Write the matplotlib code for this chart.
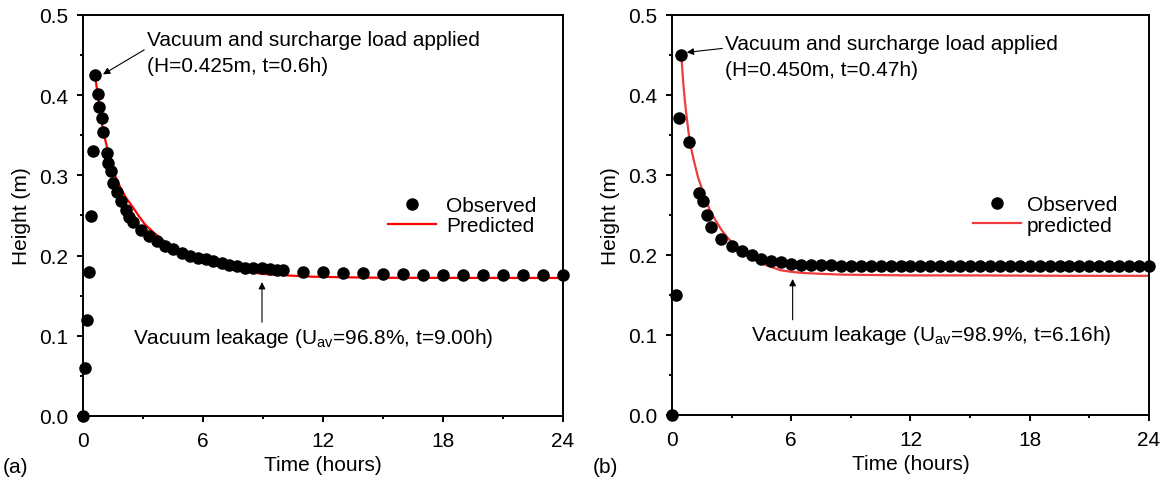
import matplotlib
matplotlib.use("Agg")
import matplotlib.pyplot as plt
from matplotlib.ticker import MultipleLocator

plt.rcParams['font.family'] = ['Liberation Sans', 'DejaVu Sans']
plt.rcParams['mathtext.fontset'] = 'custom'
plt.rcParams['mathtext.rm'] = 'Liberation Sans'
plt.rcParams['mathtext.it'] = 'Liberation Sans:italic'

# ---- panel (a) ----
t_obs_a = [0, 0.1, 0.2, 0.3, 0.4, 0.5, 0.6, 0.73, 0.8, 0.93, 1.02, 1.18, 1.27, 1.4,
           1.52, 1.68, 1.9, 2.15, 2.32, 2.52, 2.9, 3.3, 3.7, 4.1, 4.5, 4.93, 5.35,
           5.77, 6.15, 6.52, 6.93, 7.32, 7.72, 8.1, 8.5, 8.93, 9.33, 9.68, 10.0,
           11, 12, 13, 14, 15, 16, 17, 18, 19, 20, 21, 22, 23, 24]
h_obs_a = [0, 0.06, 0.12, 0.18, 0.25, 0.33, 0.425, 0.402, 0.385, 0.371, 0.354, 0.328,
           0.316, 0.305, 0.291, 0.279, 0.268, 0.257, 0.248, 0.242, 0.232, 0.224,
           0.218, 0.212, 0.208, 0.203, 0.200, 0.197, 0.196, 0.193, 0.191, 0.188,
           0.187, 0.185, 0.185, 0.184, 0.183, 0.182, 0.182,
           0.180, 0.179, 0.178, 0.178, 0.177, 0.177, 0.176, 0.176, 0.176, 0.176,
           0.176, 0.176, 0.176, 0.176]
t_pred_a = [0.6, 0.7, 0.835, 1.0, 1.25, 1.5, 1.75, 1.95, 2.165, 2.5, 2.8, 3.085, 3.5,
            4.085, 4.5, 5.085, 5.75, 6.5, 7.35, 8.2, 9.0, 10.0, 11.5, 13.0, 14.85,
            18.0, 24.0]
h_pred_a = [0.425, 0.407, 0.383, 0.356, 0.330, 0.306, 0.291, 0.281, 0.2716, 0.260,
            0.249, 0.2393, 0.2295, 0.2176, 0.2105, 0.203, 0.1955, 0.189, 0.1833, 0.18,
            0.1771, 0.1755, 0.1737, 0.173, 0.1724, 0.1722, 0.1721]

# ---- panel (b) ----
t_obs_b = [0, 0.2, 0.37, 0.47, 0.85, 1.35, 1.55, 1.75, 1.95, 2.45,
           3.0, 3.5, 4.0, 4.5, 5.0, 5.5, 6.0, 6.5, 7.0, 7.5, 8.0, 8.5, 9.0, 9.5,
           10.0, 10.5, 11.0, 11.5, 12.0, 12.5, 13.0, 13.5, 14.0, 14.5, 15.0, 15.5,
           16.0, 16.5, 17.0, 17.5, 18.0, 18.5, 19.0, 19.5, 20.0, 20.5, 21.0, 21.5,
           22.0, 22.5, 23.0, 23.5, 24.0]
h_obs_b = [0, 0.150, 0.371, 0.450, 0.341, 0.277, 0.268, 0.250, 0.235, 0.220,
           0.211, 0.205, 0.200, 0.195, 0.193, 0.191, 0.189, 0.188, 0.187, 0.187,
           0.187, 0.186, 0.186, 0.186, 0.186, 0.186, 0.186, 0.186, 0.186, 0.186,
           0.186, 0.186, 0.186, 0.186, 0.186, 0.186, 0.186, 0.186, 0.186, 0.186,
           0.186, 0.186, 0.186, 0.186, 0.186, 0.186, 0.186, 0.186, 0.186, 0.186,
           0.186, 0.186, 0.186]
t_pred_b = [0.47, 0.55, 0.65, 0.75, 0.85, 0.95, 1.1, 1.3, 1.5, 1.7, 1.9, 2.2, 2.5,
            2.85, 3.2, 3.45, 3.8, 4.1, 4.45, 4.8, 5.45, 6.0, 6.6, 7.5, 8.5, 10.0,
            12.0, 15.0, 20.0, 24.0]
h_pred_b = [0.450, 0.420, 0.392, 0.370, 0.350, 0.335, 0.318, 0.298, 0.283, 0.270,
            0.256, 0.243, 0.231, 0.220, 0.212, 0.2075, 0.200, 0.195, 0.190, 0.1867,
            0.181, 0.179, 0.1775, 0.1765, 0.1755, 0.175, 0.1745, 0.1745, 0.174, 0.174]

FS = 15

fig = plt.figure(figsize=(11.65, 4.89), dpi=100)
ax1 = fig.add_axes([83 / 1165, 1 - 417 / 489, 480 / 1165, 401 / 489])
ax2 = fig.add_axes([672 / 1165, 1 - 416 / 489, 477 / 1165, 400 / 489])


def style(ax):
    ax.set_xlim(0, 24)
    ax.set_ylim(0, 0.5)
    ax.xaxis.set_major_locator(MultipleLocator(6))
    ax.xaxis.set_minor_locator(MultipleLocator(3))
    ax.yaxis.set_major_locator(MultipleLocator(0.1))
    ax.yaxis.set_minor_locator(MultipleLocator(0.05))
    ax.yaxis.set_major_formatter(plt.FormatStrFormatter('%.1f'))
    ax.tick_params(which='major', direction='out', length=4.5, width=1.4,
                   labelsize=FS)
    ax.tick_params(which='minor', direction='out', length=2.5, width=1.4)
    ax.tick_params(axis='y', which='major', pad=6)
    ax.tick_params(axis='x', which='major', pad=6)
    for s in ax.spines.values():
        s.set_linewidth(1.4)
    ax.set_xlabel('Time (hours)', fontsize=FS, labelpad=4)
    ax.set_ylabel('Height (m)', fontsize=FS, labelpad=6)


style(ax1)
ax1.plot(t_obs_a, h_obs_a, 'o', color='black', ms=8, label='Observed',
         clip_on=False, zorder=3)
ax1.plot(t_pred_a, h_pred_a, '-', color='#ff0000', lw=1.6, label='Predicted', zorder=2)
ax1.legend(loc='center left', bbox_to_anchor=(0.635, 0.50), frameon=False,
           fontsize=FS, handlelength=2.3, handletextpad=0.5, labelspacing=0.05,
           borderpad=0, borderaxespad=0)
ax1.annotate('Vacuum and surcharge load applied\n(H=0.425m, t=0.6h)',
             xy=(1.0, 0.426), xytext=(3.2, 0.453), fontsize=FS, ha='left', va='center',
             linespacing=1.45,
             arrowprops=dict(arrowstyle='-|>', color='black', lw=0.8, mutation_scale=10,
                             shrinkA=0, shrinkB=0, relpos=(0, 0.6)))
ax1.annotate('', xy=(8.95, 0.167), xytext=(8.95, 0.117),
             arrowprops=dict(arrowstyle='-|>', color='black', lw=0.8, mutation_scale=10,
                             shrinkA=0, shrinkB=0))
ax1.text(2.5, 0.0985, 'Vacuum leakage (U$_{\\mathrm{av}}$=96.8%, t=9.00h)',
         fontsize=FS, ha='left', va='center')

style(ax2)
ax2.plot(t_obs_b, h_obs_b, 'o', color='black', ms=8, label='Observed',
         clip_on=False, zorder=3)
ax2.plot(t_pred_b, h_pred_b, '-', color='#ee3b3b', lw=1.6, label='predicted', zorder=2)
ax2.legend(loc='center left', bbox_to_anchor=(0.631, 0.50), frameon=False,
           fontsize=FS, handlelength=2.3, handletextpad=0.3, labelspacing=0.05,
           borderpad=0, borderaxespad=0)
ax2.annotate('Vacuum and surcharge load applied\n(H=0.450m, t=0.47h)',
             xy=(0.74, 0.4533), xytext=(2.67, 0.4485), fontsize=FS, ha='left', va='center',
             linespacing=1.45,
             arrowprops=dict(arrowstyle='-|>', color='black', lw=0.8, mutation_scale=10,
                             shrinkA=0, shrinkB=0, relpos=(0, 0.68)))
ax2.annotate('', xy=(6.07, 0.170), xytext=(6.07, 0.119),
             arrowprops=dict(arrowstyle='-|>', color='black', lw=0.8, mutation_scale=10,
                             shrinkA=0, shrinkB=0))
ax2.text(3.97, 0.101, 'Vacuum leakage (U$_{\\mathrm{av}}$=98.9%, t=6.16h)',
         fontsize=FS, ha='left', va='center')

fig.text(3 / 1165, 1 - 468 / 489, '(a)', fontsize=FS, ha='left', va='center')
fig.text(593 / 1165, 1 - 468 / 489, '(b)', fontsize=FS, ha='left', va='center')

fig.savefig('out.png', dpi=100)
